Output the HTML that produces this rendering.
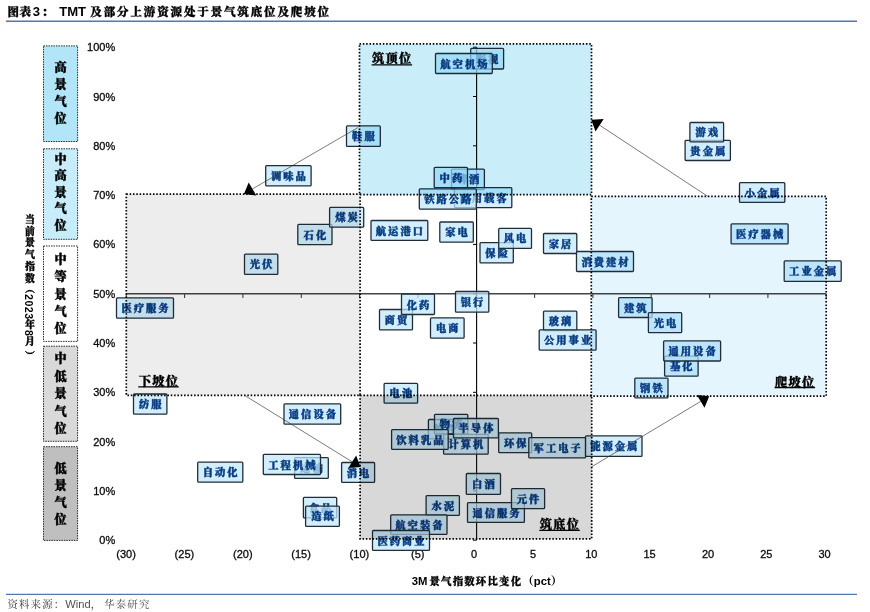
<!DOCTYPE html>
<html lang="zh-CN"><head><meta charset="utf-8"><title>图表3</title>
<style>
html,body{margin:0;padding:0;background:#fff;}
body{width:870px;height:612px;position:relative;overflow:hidden;font-family:"Liberation Sans","Noto Serif CJK SC",serif;}
.abs{position:absolute;}
.title{left:0;top:3px;height:18px;width:400px;font:bold 13.1px/18px "Liberation Sans","Noto Serif CJK SC",serif;color:#000;white-space:nowrap;}
.title span{position:absolute;top:0;}
.title .c{font-weight:900;font-size:11.5px;-webkit-text-stroke:0.35px #000;}
.src{left:7.4px;top:596.5px;font:500 10.4px/15px "Liberation Sans","Noto Serif CJK SC",serif;color:#505050;white-space:nowrap;letter-spacing:1.2px;}
.src span{font-size:11.15px;letter-spacing:0;font-weight:400;}
.yl{left:20px;top:214.2px;width:18px;height:150px;writing-mode:vertical-rl;font:900 9.9px/18px "Liberation Sans","Noto Serif CJK SC",serif;color:#000;white-space:nowrap;letter-spacing:1.95px;-webkit-text-stroke:0.35px #000;}
.yl .d{font-size:10.6px;letter-spacing:0.5px;margin-top:-1.3px;-webkit-text-stroke:0;}
svg{position:absolute;left:0;top:0;}
svg text{font-family:"Liberation Sans","Noto Serif CJK SC",serif;}
.tk{font:11px "Liberation Sans",sans-serif;fill:#0c0c0c;stroke:#0c0c0c;stroke-width:0.3px;}
.lt{font-size:10.3px;letter-spacing:2px;font-weight:900;fill:#083c82;text-anchor:middle;stroke:#083c82;stroke-width:0.45px;stroke-linejoin:round;}
.lr{fill:rgba(192,231,251,0.72);stroke:#212e39;stroke-width:1.3;}
.ct{font-size:12.1px;font-weight:900;fill:#000;stroke:#000;stroke-width:0.45px;text-anchor:middle;}
.zt{font-size:12.2px;letter-spacing:1.3px;font-weight:900;fill:#000;stroke:#000;stroke-width:0.35px;}
.xl{font-size:11.3px;font-weight:bold;fill:#000;}
.xl .c{font-size:10.4px;letter-spacing:1.2px;font-weight:900;stroke:#000;stroke-width:0.3px;}
.xl .p{font-size:11.6px;font-weight:900;}
.dz{stroke:#000;stroke-width:1.7;stroke-dasharray:1.55 1.78;}
</style></head><body>
<div class="abs title"><span class="c" style="left:7.6px;letter-spacing:0.5px">图表</span><span style="left:32.8px">3</span><span class="c" style="left:41.8px">：</span><span style="left:59.2px"> TMT </span><span class="c" style="left:90.3px;letter-spacing:1.87px">及部分上游资源处于景气筑底位及爬坡位</span></div>
<div class="abs yl">当前景气指数<span style="margin-top:-2px">（</span><span class="d">2023</span>年<span class="d">8</span>月<span style="margin-top:2.5px">）</span></div>
<svg width="870" height="612" viewBox="0 0 870 612">
<path d="M5.9 21.3H857M5.9 594.4H857" stroke="#5179b1" stroke-width="1.4" fill="none"/>
<rect x="43.5" y="45.9" width="34.1" height="95.6" fill="#b2e5f8" stroke="#1c1c1c" stroke-width="0.95" stroke-dasharray="1.5 1"/><text class="ct" x="60.5 60.5 60.5 60.5" y="71.9 89.0 106.1 123.2">高景气位</text>
<rect x="43.5" y="148.8" width="34.1" height="90.5" fill="#c7ecfa" stroke="#1c1c1c" stroke-width="0.95" stroke-dasharray="1.5 1"/><text class="ct" x="60.5 60.5 60.5 60.5 60.5" y="163.8 180.2 196.7 213.1 229.6">中高景气位</text>
<rect x="43.5" y="246.0" width="34.1" height="95.4" fill="#ffffff" stroke="#1c1c1c" stroke-width="0.95" stroke-dasharray="1.5 1"/><text class="ct" x="60.5 60.5 60.5 60.5 60.5" y="264.0 281.3 298.6 315.9 333.2">中等景气位</text>
<rect x="43.5" y="346.2" width="34.1" height="95.1" fill="#d9d9d9" stroke="#1c1c1c" stroke-width="0.95" stroke-dasharray="1.5 1"/><text class="ct" x="60.5 60.5 60.5 60.5 60.5" y="363.3 380.8 398.2 415.6 433.1">中低景气位</text>
<rect x="43.5" y="446.7" width="34.1" height="93.7" fill="#bfbfbf" stroke="#1c1c1c" stroke-width="0.95" stroke-dasharray="1.5 1"/><text class="ct" x="60.5 60.5 60.5 60.5" y="472.5 489.7 506.9 524.1">低景气位</text>
<g class="tk" text-anchor="end">
<text x="115.2" y="544.2">0%</text>
<text x="115.2" y="494.9">10%</text>
<text x="115.2" y="445.6">20%</text>
<text x="115.2" y="396.3">30%</text>
<text x="115.2" y="347.0">40%</text>
<text x="115.2" y="297.7">50%</text>
<text x="115.2" y="248.4">60%</text>
<text x="115.2" y="199.1">70%</text>
<text x="115.2" y="149.8">80%</text>
<text x="115.2" y="100.5">90%</text>
<text x="115.2" y="51.2">100%</text>
</g>
<g class="tk" text-anchor="middle">
<text x="126.1" y="558.2">(30)</text>
<text x="184.4" y="558.2">(25)</text>
<text x="242.8" y="558.2">(20)</text>
<text x="301.1" y="558.2">(15)</text>
<text x="359.4" y="558.2">(10)</text>
<text x="417.7" y="558.2">(5)</text>
<text x="474.0" y="558.2">0</text>
<text x="533.0" y="558.2">5</text>
<text x="591.3" y="558.2">10</text>
<text x="649.6" y="558.2">15</text>
<text x="708.0" y="558.2">20</text>
<text x="766.3" y="558.2">25</text>
<text x="824.6" y="558.2">30</text>
</g>
<text class="xl" x="411.7" y="585.2">3M<tspan class="c" x="429.5">景气指数环比变化</tspan><tspan class="p">（</tspan>pct<tspan class="p">）</tspan></text>
<line x1="126.3" y1="293.7" x2="826.2" y2="293.7" stroke="#454545" stroke-width="1.6"/>
<path d="M126.3 293.7v4.2M184.6 293.7v4.2M242.9 293.7v4.2M301.3 293.7v4.2M359.6 293.7v4.2M417.9 293.7v4.2M476.3 293.7v4.2M534.6 293.7v4.2M592.9 293.7v4.2M651.2 293.7v4.2M709.6 293.7v4.2M767.9 293.7v4.2M826.2 293.7v4.2" stroke="#454545" stroke-width="1.1" fill="none"/>
<line x1="476.6" y1="47.2" x2="476.6" y2="540.2" stroke="#000" stroke-width="1.1"/>
<path d="M476.6 540.2h-3.6M476.6 490.9h-3.6M476.6 441.6h-3.6M476.6 392.3h-3.6M476.6 343.0h-3.6M476.6 293.7h-3.6M476.6 244.4h-3.6M476.6 195.1h-3.6M476.6 145.8h-3.6M476.6 96.5h-3.6M476.6 47.2h-3.6" stroke="#000" stroke-width="1" fill="none"/>
<g filter="none">
<rect class="lr" x="470.7" y="48.4" width="32.9" height="20.6" rx="0.9"/><text class="lt" x="488.1" y="62.8">影视</text>
<rect class="lr" x="435.5" y="53.5" width="56.8" height="20.0" rx="0.9"/><text class="lt" x="464.9" y="67.6">航空机场</text>
<rect class="lr" x="346.5" y="125.8" width="33.8" height="20.6" rx="0.9"/><text class="lt" x="364.4" y="140.2">鞋服</text>
<rect class="lr" x="265.7" y="165.6" width="45.4" height="20.2" rx="0.9"/><text class="lt" x="289.4" y="179.8">调味品</text>
<rect class="lr" x="451.5" y="169.2" width="32.9" height="20.3" rx="0.9"/><text class="lt" x="469.0" y="183.4">啤酒</text>
<rect class="lr" x="434.2" y="167.4" width="33.3" height="20.3" rx="0.9"/><text class="lt" x="451.9" y="181.7">中药</text>
<rect class="lr" x="454.5" y="187.6" width="57.3" height="20.1" rx="0.9"/><text class="lt" x="484.1" y="201.8">商用载客</text>
<rect class="lr" x="419.3" y="188.9" width="57.0" height="20.3" rx="0.9"/><text class="lt" x="448.8" y="203.2">铁路公路</text>
<rect class="lr" x="297.8" y="224.4" width="34.2" height="20.2" rx="0.9"/><text class="lt" x="315.9" y="238.6">石化</text>
<rect class="lr" x="329.6" y="207.3" width="34.1" height="19.9" rx="0.9"/><text class="lt" x="347.6" y="221.3">煤炭</text>
<rect class="lr" x="244.5" y="254.1" width="33.3" height="20.2" rx="0.9"/><text class="lt" x="262.1" y="268.3">光伏</text>
<rect class="lr" x="371.0" y="220.5" width="56.8" height="19.8" rx="0.9"/><text class="lt" x="400.4" y="234.5">航运港口</text>
<rect class="lr" x="439.8" y="222.0" width="33.5" height="20.1" rx="0.9"/><text class="lt" x="457.6" y="236.2">家电</text>
<rect class="lr" x="480.0" y="242.7" width="33.3" height="20.1" rx="0.9"/><text class="lt" x="497.6" y="256.9">保险</text>
<rect class="lr" x="498.7" y="228.3" width="32.8" height="20.1" rx="0.9"/><text class="lt" x="516.1" y="242.4">风电</text>
<rect class="lr" x="543.5" y="233.5" width="33.3" height="20.0" rx="0.9"/><text class="lt" x="561.1" y="247.6">家居</text>
<rect class="lr" x="576.5" y="251.5" width="57.0" height="20.0" rx="0.9"/><text class="lt" x="606.0" y="265.6">消费建材</text>
<rect class="lr" x="685.1" y="140.4" width="45.3" height="20.1" rx="0.9"/><text class="lt" x="708.8" y="154.5">贵金属</text>
<rect class="lr" x="689.9" y="122.5" width="33.7" height="19.3" rx="0.9"/><text class="lt" x="707.8" y="136.2">游戏</text>
<rect class="lr" x="739.5" y="182.6" width="45.3" height="19.8" rx="0.9"/><text class="lt" x="763.1" y="196.6">小金属</text>
<rect class="lr" x="731.1" y="223.8" width="57.0" height="20.0" rx="0.9"/><text class="lt" x="760.6" y="237.9">医疗器械</text>
<rect class="lr" x="784.2" y="260.9" width="57.0" height="20.4" rx="0.9"/><text class="lt" x="813.7" y="275.2">工业金属</text>
<rect class="lr" x="116.5" y="297.9" width="57.0" height="20.3" rx="0.9"/><text class="lt" x="146.0" y="312.1">医疗服务</text>
<rect class="lr" x="379.5" y="309.5" width="33.0" height="20.3" rx="0.9"/><text class="lt" x="397.0" y="323.8">商贸</text>
<rect class="lr" x="401.5" y="294.2" width="33.0" height="20.3" rx="0.9"/><text class="lt" x="419.0" y="308.5">化药</text>
<rect class="lr" x="430.5" y="317.9" width="33.6" height="20.2" rx="0.9"/><text class="lt" x="448.3" y="332.1">电商</text>
<rect class="lr" x="455.5" y="291.5" width="33.3" height="20.6" rx="0.9"/><text class="lt" x="473.1" y="305.9">银行</text>
<rect class="lr" x="543.5" y="311.2" width="33.3" height="19.3" rx="0.9"/><text class="lt" x="561.1" y="325.0">玻璃</text>
<rect class="lr" x="539.2" y="329.9" width="56.9" height="20.2" rx="0.9"/><text class="lt" x="568.6" y="344.1">公用事业</text>
<rect class="lr" x="618.6" y="297.6" width="33.5" height="19.9" rx="0.9"/><text class="lt" x="636.3" y="311.6">建筑</text>
<rect class="lr" x="648.4" y="312.6" width="33.3" height="20.0" rx="0.9"/><text class="lt" x="666.0" y="326.7">光电</text>
<rect class="lr" x="664.6" y="356.1" width="33.5" height="20.0" rx="0.9"/><text class="lt" x="682.3" y="370.2">基化</text>
<rect class="lr" x="663.6" y="340.9" width="57.0" height="20.1" rx="0.9"/><text class="lt" x="693.1" y="355.1">通用设备</text>
<rect class="lr" x="634.8" y="378.1" width="33.2" height="19.8" rx="0.9"/><text class="lt" x="652.4" y="392.1">钢铁</text>
<rect class="lr" x="133.5" y="394.0" width="33.4" height="20.1" rx="0.9"/><text class="lt" x="151.2" y="408.2">纺服</text>
<rect class="lr" x="284.0" y="403.8" width="56.7" height="20.4" rx="0.9"/><text class="lt" x="313.4" y="418.1">通信设备</text>
<rect class="lr" x="384.1" y="383.3" width="33.5" height="19.9" rx="0.9"/><text class="lt" x="401.9" y="397.4">电池</text>
<rect class="lr" x="197.7" y="462.2" width="45.1" height="20.0" rx="0.9"/><text class="lt" x="221.2" y="476.3">自动化</text>
<rect class="lr" x="294.6" y="457.7" width="33.7" height="20.6" rx="0.9"/><text class="lt" x="312.4" y="472.1">运输</text>
<rect class="lr" x="263.3" y="454.3" width="57.2" height="20.2" rx="0.9"/><text class="lt" x="292.9" y="468.5">工程机械</text>
<rect class="lr" x="341.6" y="462.5" width="33.0" height="19.8" rx="0.9"/><text class="lt" x="359.1" y="476.5">消电</text>
<rect class="lr" x="303.4" y="497.4" width="33.3" height="20.5" rx="0.9"/><text class="lt" x="321.0" y="511.8">食品</text>
<rect class="lr" x="305.6" y="506.2" width="33.8" height="20.2" rx="0.9"/><text class="lt" x="323.5" y="520.4">造纸</text>
<rect class="lr" x="428.4" y="419.5" width="33.4" height="19.3" rx="0.9"/><text class="lt" x="446.1" y="433.2">软件</text>
<rect class="lr" x="434.5" y="414.4" width="33.3" height="19.6" rx="0.9"/><text class="lt" x="452.1" y="428.3">物流</text>
<rect class="lr" x="443.6" y="434.3" width="44.6" height="19.9" rx="0.9"/><text class="lt" x="466.9" y="448.4">计算机</text>
<rect class="lr" x="391.6" y="429.6" width="56.6" height="19.8" rx="0.9"/><text class="lt" x="420.9" y="443.6">饮料乳品</text>
<rect class="lr" x="453.5" y="418.5" width="44.9" height="19.3" rx="0.9"/><text class="lt" x="477.0" y="432.2">半导体</text>
<rect class="lr" x="498.7" y="432.9" width="33.0" height="19.8" rx="0.9"/><text class="lt" x="516.2" y="446.9">环保</text>
<rect class="lr" x="528.8" y="437.7" width="56.8" height="20.1" rx="0.9"/><text class="lt" x="558.2" y="451.9">军工电子</text>
<rect class="lr" x="585.5" y="435.9" width="56.5" height="20.4" rx="0.9"/><text class="lt" x="614.8" y="450.2">能源金属</text>
<rect class="lr" x="466.3" y="473.5" width="34.2" height="20.8" rx="0.9"/><text class="lt" x="484.4" y="488.0">白酒</text>
<rect class="lr" x="426.1" y="495.6" width="33.3" height="19.7" rx="0.9"/><text class="lt" x="443.8" y="509.6">水泥</text>
<rect class="lr" x="467.5" y="502.7" width="56.9" height="19.7" rx="0.9"/><text class="lt" x="497.0" y="516.6">通信服务</text>
<rect class="lr" x="511.5" y="488.6" width="33.1" height="20.1" rx="0.9"/><text class="lt" x="529.0" y="502.8">元件</text>
<rect class="lr" x="390.7" y="514.8" width="56.3" height="19.5" rx="0.9"/><text class="lt" x="419.9" y="528.6">航空装备</text>
<rect class="lr" x="372.5" y="530.5" width="57.0" height="19.8" rx="0.9"/><text class="lt" x="402.0" y="544.5">医药商业</text>
</g>
<rect class="dz" x="126.3" y="194.2" width="233.8" height="201.1" fill="#ededed" style="mix-blend-mode:multiply"/>
<rect class="dz" x="360.1" y="395.4" width="231.6" height="143.5" fill="#d8d8d8" style="mix-blend-mode:multiply"/>
<rect class="dz" x="359.5" y="43.9" width="232.0" height="150.7" fill="#c9eefa" style="mix-blend-mode:multiply"/>
<rect class="dz" x="591.3" y="196.3" width="234.9" height="199.8" fill="#e5f5fd" style="mix-blend-mode:multiply"/>
<line x1="358" y1="127.5" x2="252.5" y2="188.9" stroke="#333" stroke-width="0.65"/>
<polygon points="243.9,193.9 248.7,182.5 256.2,195.4" fill="#000"/>
<line x1="707.6" y1="196.3" x2="599.6" y2="125.2" stroke="#333" stroke-width="0.65"/>
<polygon points="591.3,119.8 603.7,119.0 595.5,131.5" fill="#000"/>
<line x1="244" y1="395" x2="352.2" y2="461.8" stroke="#333" stroke-width="0.65"/>
<polygon points="360.6,467 348.3,468.1 356.1,455.5" fill="#000"/>
<line x1="591.6" y1="466.8" x2="700.7" y2="401.4" stroke="#333" stroke-width="0.65"/>
<polygon points="709.2,396.3 704.5,407.8 696.9,395.0" fill="#000"/>
<text class="zt" x="372.0" y="63.4">筑顶位</text><line x1="371.6" y1="64.9" x2="412.1" y2="64.9" stroke="#000" stroke-width="1.3"/>
<text class="zt" x="138.70000000000002" y="386.2">下坡位</text><line x1="138.3" y1="386.8" x2="178.8" y2="386.8" stroke="#000" stroke-width="1.3"/>
<text class="zt" x="775.0" y="386.6">爬坡位</text><line x1="774.6" y1="387.5" x2="815.1" y2="387.5" stroke="#000" stroke-width="1.3"/>
<text class="zt" x="539.6999999999999" y="529.0">筑底位</text><line x1="539.3" y1="530.4" x2="579.8" y2="530.4" stroke="#000" stroke-width="1.3"/>
</svg>
<div class="abs src">资料来源：<span>Wind</span>，<span style="font-size:10.4px;letter-spacing:1.2px;margin-left:1.8px">华泰研究</span></div>
</body></html>
